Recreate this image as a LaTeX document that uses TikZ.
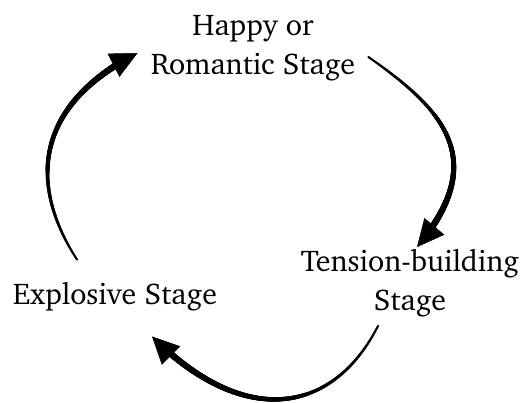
\documentclass[tikz,border=0pt]{standalone}
\usepackage[T1]{fontenc}
\usepackage{charter}
\usetikzlibrary{arrows.meta,decorations.markings}
\begin{document}
\begin{tikzpicture}[x=1pt,y=1pt,line join=round,line cap=round,
  stage/.style={font=\fontsize{30}{39}\selectfont,align=center,inner sep=0pt},
  cyclearrow/.style={draw=white,line width=0.5pt,-{Triangle[length=27pt,width=26pt,color=black]},
    postaction={decorate,decoration={markings,
      mark=between positions 0 and 0.93 step 0.5pt with {\pgfmathsetmacro\rr{1.1+2.4*\pgfkeysvalueof{/pgf/decoration/mark info/distance from start}/\pgfdecoratedpathlength}\fill[black] (0,0) circle (\rr pt);}}}}]
\useasboundingbox (0,0) rectangle (526,-403);
\node[stage] (happy) at (253,-48) {Happy or\\Romantic Stage};
\node[stage] (tension) at (410,-283) {Tension-building\\Stage};
\node[stage] (explosive) at (115,-297) {Explosive Stage};
\draw[cyclearrow] ([shift={(13,-9)}]happy.east) .. controls +(-35:90) and +(50:115) .. ([shift={(7,2)}]tension.north);
\draw[cyclearrow] ([shift={(-32,-9)}]tension.south) .. controls +(243:100) and +(-45:130) .. ([shift={(37,-25)}]explosive.south);
\draw[cyclearrow] ([shift={(-38,23)}]explosive.north) .. controls +(123:85) and +(207:120) .. ([shift={(-13,-5)}]happy.west);
\end{tikzpicture}
\end{document}
